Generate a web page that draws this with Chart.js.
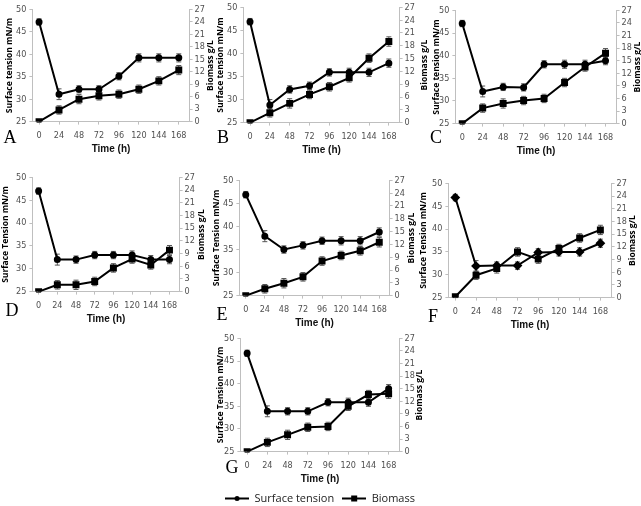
<!DOCTYPE html>
<html>
<head>
<meta charset="utf-8">
<script src="https://cdn.jsdelivr.net/npm/chart.js@4/dist/chart.umd.min.js"></script>
<style>
  body { margin: 0; background: #fff; width: 641px; height: 506px; position: relative; overflow: hidden; }
  canvas { position: absolute; }
  .letter { position: absolute; font-family: 'Liberation Serif', 'DejaVu Serif', serif; font-size: 18px; color: #000; transform: translate(-50%, -50%); line-height: 1; }
</style>
</head>
<body>
<script>
// time axis
var times = [0, 24, 48, 72, 96, 120, 144, 168];
var timeLabels = ['0', '24', '48', '72', '96', '120', '144', '168'];
var stTicks = [25, 30, 35, 40, 45, 50];
var bmTicks = [0, 3, 6, 9, 12, 15, 18, 21, 24, 27];

// surface tension (mN/m) and biomass (g/L), panels A..G
var stA = [47.2, 31.1, 32.2, 32.2, 35.1, 39.2, 39.2, 39.2];
var bmA = [0, 2.8, 5.4, 6.2, 6.6, 7.8, 9.8, 12.4];
var stB = [46.9, 28.8, 32.2, 33.0, 35.9, 35.9, 35.9, 37.9];
var bmB = [0, 2.3, 4.5, 6.6, 8.4, 10.5, 15.1, 19.0];
var stC = [47.1, 32.1, 33.1, 33.0, 38.1, 38.1, 38.1, 38.9];
var bmC = [0, 3.7, 4.8, 5.5, 6.0, 9.8, 13.5, 16.8];
var stD = [47.0, 32.0, 32.0, 33.0, 33.0, 33.0, 32.0, 32.0];
var bmD = [0, 1.6, 1.6, 2.4, 5.6, 7.7, 6.3, 9.8];
var stE = [46.9, 37.9, 35.0, 35.9, 36.9, 36.9, 36.9, 38.8];
var bmE = [0, 1.6, 2.9, 4.4, 8.1, 9.4, 10.5, 12.5];
var stF = [46.9, 31.9, 32.0, 32.0, 34.9, 35.0, 35.0, 36.9];
var bmF = [0.2, 5.3, 6.9, 10.8, 9.1, 11.6, 14.1, 16.0];
var stG = [46.7, 33.9, 33.9, 33.9, 35.9, 35.9, 35.9, 38.9];
var bmG = [0, 2.2, 4.0, 5.8, 6.0, 10.8, 13.6, 13.8];

// error bars
var stErr = [0.7, 1.2, 0.8, 0.8, 0.8, 0.9, 0.9, 0.9];
var bmErr = [0.2, 1.0, 1.1, 1.0, 1.0, 1.0, 1.0, 1.1];

var panels = [
  {letter: 'A', st: stA, bm: bmA, stTitle: 'Surface tension mN/m', lt: 9,   ax: 32,  rx: 190, rt: 211, top: 9,   bottom: 122, lx: 10,  ly: 137},
  {letter: 'B', st: stB, bm: bmB, stTitle: 'Surface tension mN/m', lt: 220, ax: 243, rx: 400, rt: 425, top: 7,   bottom: 123, lx: 223, ly: 137},
  {letter: 'C', st: stC, bm: bmC, stTitle: 'Surface tension mN/m', lt: 436, ax: 455, rx: 617, rt: 638, top: 10,  bottom: 124, lx: 436, ly: 137},
  {letter: 'D', st: stD, bm: bmD, stTitle: 'Surface Tension mN/m', lt: 5,   ax: 32,  rx: 180, rt: 202, top: 177, bottom: 292, lx: 12,  ly: 310},
  {letter: 'E', st: stE, bm: bmE, stTitle: 'Surface Tension mN/m', lt: 216, ax: 239, rx: 390, rt: 412, top: 180, bottom: 296, lx: 222, ly: 314},
  {letter: 'F', st: stF, bm: bmF, stTitle: 'Surface Tension mN/m', lt: 423, ax: 448, rx: 612, rt: 633, top: 183, bottom: 298, lx: 433, ly: 316, stMark: 'rectRot'},
  {letter: 'G', st: stG, bm: bmG, stTitle: 'Surface Tension mN/m', lt: 220, ax: 240, rx: 400, rt: 420, top: 338, bottom: 453, lx: 232, ly: 467, legend: true}
];

var tickFont = {family: "'Liberation Sans Narrow', 'DejaVu Sans Condensed', sans-serif", size: 9};
var titleFont = {family: "'Open Sans', sans-serif", size: 8.5, weight: 'bold'};
var timeFont = {family: "'Liberation Sans Narrow', sans-serif", size: 10, weight: 'bold'};
var tickColor = '#505050';
var axisGray = '#bfbfbf';
var half = 9 * 1.2 / 2;

var errorBars = {
  id: 'errorBars',
  beforeDatasetsDraw: function(chart) {
    var ctx = chart.ctx;
    ctx.save();
    ctx.strokeStyle = '#555';
    ctx.lineWidth = 1;
    chart.data.datasets.forEach(function(ds, i) {
      var meta = chart.getDatasetMeta(i);
      var ys = chart.scales[ds.yAxisID];
      meta.data.forEach(function(pt, j) {
        var v = ds.data[j].y, e = ds.errors[j];
        var y1 = ys.getPixelForValue(v + e), y2 = ys.getPixelForValue(v - e);
        ctx.beginPath();
        ctx.moveTo(pt.x, y1); ctx.lineTo(pt.x, y2);
        ctx.moveTo(pt.x - 2.5, y1); ctx.lineTo(pt.x + 2.5, y1);
        ctx.moveTo(pt.x - 2.5, y2); ctx.lineTo(pt.x + 2.5, y2);
        ctx.stroke();
      });
    });
    ctx.restore();
  }
};

// right axis title reads bottom-to-top like the left one
var rightTitle = {
  id: 'rightTitle',
  afterDraw: function(chart) {
    var s = chart.scales.yR, ctx = chart.ctx;
    ctx.save();
    ctx.translate(s.right - half, (s.top + s.bottom) / 2);
    ctx.rotate(-Math.PI / 2);
    ctx.font = 'bold 8.5px "Open Sans", sans-serif';
    ctx.fillStyle = '#000';
    ctx.textAlign = 'center';
    ctx.textBaseline = 'middle';
    ctx.fillText('Biomass g/L', 0, 0);
    ctx.restore();
  }
};

function legendIcon(style) {
  var c = document.createElement('canvas');
  c.width = 24; c.height = 9;
  var g = c.getContext('2d');
  g.strokeStyle = '#000'; g.fillStyle = '#000'; g.lineWidth = 2;
  g.beginPath(); g.moveTo(0, 4.5); g.lineTo(24, 4.5); g.stroke();
  if (style === 'circle') { g.beginPath(); g.arc(12, 4.5, 2.5, 0, Math.PI * 2); g.fill(); }
  else g.fillRect(9, 1.5, 6, 6);
  return c;
}
var icons = [legendIcon('circle'), legendIcon('rect')];

panels.forEach(function(p) {
  var extra = p.legend ? 40 : 0;
  var cl = p.lt - half - extra, cr = p.rt + half + extra;
  var wL = p.ax - (p.lt - half), wR = (p.rt + half) - p.rx;
  var padTop = 8, hX = 28 + half;
  var legH = p.legend ? 28 : 0;
  var ct = p.top - padTop, cb = p.bottom + hX + 2 + legH;

  var cv = document.createElement('canvas');
  cv.style.left = cl + 'px'; cv.style.top = ct + 'px';
  cv.style.width = (cr - cl) + 'px'; cv.style.height = (cb - ct) + 'px';
  cv.width = cr - cl; cv.height = cb - ct;
  document.body.appendChild(cv);

  var lt = document.createElement('div');
  lt.className = 'letter';
  lt.textContent = p.letter;
  lt.style.left = p.lx + 'px'; lt.style.top = p.ly + 'px';
  document.body.appendChild(lt);

  new Chart(cv, {
    type: 'line',
    data: {
      datasets: [
        {
          label: 'Surface tension', yAxisID: 'yL',
          data: times.map(function(t, i) { return {x: t, y: p.st[i]}; }),
          errors: stErr,
          borderColor: '#000', backgroundColor: '#000', borderWidth: 2,
          pointStyle: p.stMark || 'circle', pointRadius: p.stMark ? 3.5 : 2.5, tension: 0
        },
        {
          label: 'Biomass', yAxisID: 'yR',
          data: times.map(function(t, i) { return {x: t, y: p.bm[i]}; }),
          errors: bmErr,
          borderColor: '#000', backgroundColor: '#000', borderWidth: 2,
          pointStyle: 'rect', pointRadius: 3.5, tension: 0
        }
      ]
    },
    options: {
      responsive: false, animation: false,
      layout: {padding: {top: padTop, bottom: 2, left: extra, right: extra}},
      plugins: {
        tooltip: {enabled: false},
        legend: {
          display: !!p.legend, position: 'bottom',
          labels: {
            usePointStyle: true, pointStyleWidth: 24, padding: 8,
            color: '#222', font: {family: "'Open Sans', sans-serif", size: 11},
            generateLabels: function(chart) {
              return chart.data.datasets.map(function(ds, i) {
                return {text: ds.label, pointStyle: icons[i], datasetIndex: i, fontColor: '#222', lineWidth: 0, strokeStyle: '#000', fillStyle: '#000'};
              });
            }
          }
        }
      },
      scales: {
        x: {
          type: 'linear', min: -8, max: 181,
          afterBuildTicks: function(s) { s.ticks = times.map(function(v) { return {value: v}; }); },
          afterFit: function(s) { s.height = hX; },
          ticks: {
            autoSkip: false, maxRotation: 0, padding: 6, color: tickColor, font: tickFont,
            callback: function(v) { return timeLabels[times.indexOf(v)]; }
          },
          grid: {drawOnChartArea: false, tickLength: 3, color: axisGray},
          border: {color: axisGray},
          title: {display: true, text: 'Time (h)', color: '#111', font: timeFont, padding: 0}
        },
        yL: {
          position: 'left', min: 25, max: 50,
          afterBuildTicks: function(s) { s.ticks = stTicks.map(function(v) { return {value: v}; }); },
          afterFit: function(s) { s.width = wL; },
          ticks: {autoSkip: false, color: tickColor, font: tickFont, padding: 3},
          grid: {drawOnChartArea: false, tickLength: 3, color: axisGray},
          border: {color: axisGray},
          title: {display: true, text: p.stTitle, color: '#000', font: titleFont, padding: 0}
        },
        yR: {
          position: 'right', min: 0, max: 27,
          afterBuildTicks: function(s) { s.ticks = bmTicks.map(function(v) { return {value: v}; }); },
          afterFit: function(s) { s.width = wR; },
          ticks: {autoSkip: false, color: tickColor, font: tickFont, padding: 2},
          grid: {drawOnChartArea: false, tickLength: 3, color: axisGray},
          border: {color: axisGray},
          title: {display: false}
        }
      }
    },
    plugins: [errorBars, rightTitle]
  });
});
</script>
</body>
</html>
